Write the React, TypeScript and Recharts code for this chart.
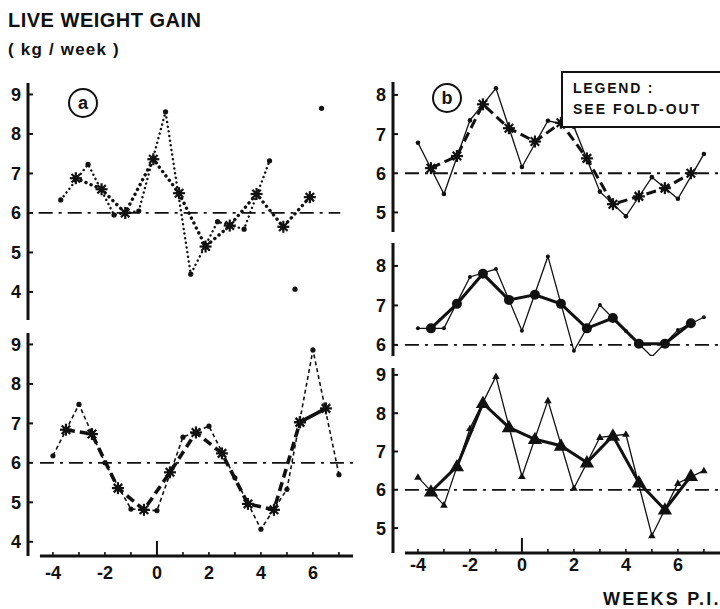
import React from "react";
import { ComposedChart, Line, XAxis, YAxis, ReferenceLine } from "recharts";

const FONT = '"Liberation Sans", Arial, Helvetica, sans-serif';
const INK = "#111";

// ---- (a) upper: weekly means (asterisks) and single weeks (dots)
const aTopMeanWeek = [-3.12, -2.13, -1.22, -0.14, 0.85, 1.87, 2.8, 3.83, 4.86, 5.88];
const aTopMeanGain = [6.88, 6.6, 6.0, 7.36, 6.5, 5.15, 5.68, 6.48, 5.65, 6.4];
const aTopWeek = [-3.7, -2.65, -1.65, -0.7, 0.33, 1.3, 2.33, 3.35, 4.33];
const aTopGain = [6.33, 7.23, 5.95, 6.05, 8.56, 4.45, 5.78, 5.59, 7.32];
const aTopStrayWeek = [5.31, 6.33];
const aTopStrayGain = [4.07, 8.65];

// ---- (a) lower
const halfWeeks = [-3.5, -2.5, -1.5, -0.5, 0.5, 1.5, 2.5, 3.5, 4.5, 5.5, 6.5];
const weeks = [-4, -3, -2, -1, 0, 1, 2, 3, 4, 5, 6, 7];
const aLowMeanGain = [6.84, 6.73, 5.36, 4.81, 5.76, 6.77, 6.24, 4.96, 4.81, 7.03, 7.38];
const aLowGain = [6.18, 7.48, 6.0, 4.83, 4.79, 6.65, 6.93, 5.62, 4.32, 5.33, 8.86, 5.7];

// ---- (b) three groups
const bTopMeanGain = [6.13, 6.44, 7.76, 7.15, 6.81, 7.29, 6.38, 5.21, 5.41, 5.62, 6.0];
const bTopGain = [6.78, 5.47, 7.35, 8.17, 6.16, 7.34, 7.19, 5.53, 4.9, 5.9, 5.35, 6.49];
const bMidMeanGain = [6.42, 7.04, 7.8, 7.14, 7.27, 7.04, 6.42, 6.68, 6.03, 6.03, 6.55];
const bMidGain = [6.42, 6.42, 7.72, 7.92, 6.36, 8.24, 5.85, 7.01, 6.35, 5.7, 6.38, 6.7];
const bLowMeanGain = [5.95, 6.61, 8.26, 7.63, 7.32, 7.15, 6.71, 7.41, 6.19, 5.48, 6.36];
const bLowGain = [6.33, 5.6, 7.6, 8.96, 6.35, 8.33, 6.04, 7.37, 7.45, 4.8, 6.17, 6.5];

const xTicks = [-4, -3, -2, -1, 0, 1, 2, 3, 4, 5, 6, 7];
const BASELINE = 6;
// room above each plot so the top tick label is not clipped
const PAD = 12;

const rows = (w: number[], g: number[]) => w.map((week, i) => ({ week, gain: g[i] }));

type Dot = (p: any) => React.ReactElement;

const star = (r: number): Dot => (p) => {
  const { cx, cy, index } = p;
  if (cx == null || cy == null) return <g key={`s${index}`} />;
  const d = r * 0.7071;
  const seg = (x1: number, y1: number, x2: number, y2: number, k: string) => (
    <line key={k} x1={x1} y1={y1} x2={x2} y2={y2} stroke={INK} strokeWidth={2.2} />
  );
  return (
    <g key={`s${index}`}>
      {seg(cx - r, cy, cx + r, cy, "h")}
      {seg(cx, cy - r, cx, cy + r, "v")}
      {seg(cx - d, cy - d, cx + d, cy + d, "d1")}
      {seg(cx - d, cy + d, cx + d, cy - d, "d2")}
      <circle cx={cx} cy={cy} r={r * 0.5} fill={INK} />
    </g>
  );
};

const disc = (r: number): Dot => (p) => {
  const { cx, cy, index } = p;
  if (cx == null || cy == null) return <g key={`d${index}`} />;
  return <circle key={`d${index}`} cx={cx} cy={cy} r={r} fill={INK} />;
};

const tri = (r: number): Dot => (p) => {
  const { cx, cy, index } = p;
  if (cx == null || cy == null) return <g key={`t${index}`} />;
  const pts = `${cx},${cy - r} ${cx + r * 0.95},${cy + r * 0.65} ${cx - r * 0.95},${cy + r * 0.65}`;
  return <polygon key={`t${index}`} points={pts} fill={INK} />;
};

type SeriesDef = {
  week: number[];
  gain: number[];
  width: number;
  dash?: string;
  cap?: "round" | "butt";
  dot: Dot | false;
};

type PanelProps = {
  left: number;
  top: number;
  width: number;
  plotHeight: number;
  axisWidth: number;
  xDomain: [number, number];
  yDomain: [number, number];
  yTicks: number[];
  baseline: [number, number];
  xAxis?: { from: number; labelGap: number };
  series: SeriesDef[];
};

const YTick = (p: any) => {
  const { x, y, payload } = p;
  return (
    <g>
      <line x1={x} x2={x + 5} y1={y} y2={y} stroke={INK} strokeWidth={2} />
      <text x={x - 7} y={y} dy="0.36em" textAnchor="end" fontFamily={FONT} fontWeight={700} fontSize={18} fill={INK}>
        {payload.value}
      </text>
    </g>
  );
};

const makeXTick = (labelGap: number) => (p: any) => {
  const { x, y, payload } = p;
  const v = payload.value as number;
  return (
    <g>
      <line x1={x} x2={x} y1={y} y2={y - (v === 0 ? 15 : 4)} stroke={INK} strokeWidth={v === 0 ? 2 : 1.6} />
      {v % 2 === 0 ? (
        <text x={x} y={y + labelGap} dy="0.36em" textAnchor="middle" fontFamily={FONT} fontWeight={700} fontSize={18} fill={INK}>
          {v < 0 ? `-${Math.abs(v)}` : v}
        </text>
      ) : null}
    </g>
  );
};

function Panel(props: PanelProps) {
  const { left, top, width, plotHeight, axisWidth, xDomain, yDomain, yTicks, baseline, xAxis, series } = props;
  const bottom = xAxis ? 32 : 0;
  return (
    <div style={{ position: "absolute", left, top: top - PAD }}>
      <ComposedChart width={width} height={plotHeight + bottom + PAD} margin={{ top: PAD, right: 0, bottom: 0, left: 0 }}>
        <XAxis
          type="number"
          dataKey="week"
          domain={xDomain}
          allowDataOverflow
          ticks={xTicks}
          interval={0}
          hide={!xAxis}
          height={bottom}
          axisLine={false}
          tickLine={false}
          tickSize={0}
          tickMargin={0}
          tick={xAxis ? makeXTick(xAxis.labelGap) : false}
        />
        <YAxis
          type="number"
          domain={yDomain}
          allowDataOverflow
          ticks={yTicks}
          interval={0}
          width={axisWidth}
          axisLine={{ stroke: INK, strokeWidth: 3 }}
          tickLine={false}
          tickSize={0}
          tickMargin={0}
          tick={<YTick />}
        />
        <ReferenceLine
          segment={[
            { x: baseline[0], y: BASELINE },
            { x: baseline[1], y: BASELINE },
          ]}
          stroke={INK}
          strokeWidth={1.8}
          strokeDasharray="14 6 3 6"
          ifOverflow="visible"
        />
        {xAxis ? (
          <ReferenceLine
            segment={[
              { x: xAxis.from, y: yDomain[0] },
              { x: xDomain[1], y: yDomain[0] },
            ]}
            stroke={INK}
            strokeWidth={3}
            ifOverflow="visible"
          />
        ) : null}
        {series.map((s, i) => (
          <Line
            key={i}
            data={rows(s.week, s.gain)}
            dataKey="gain"
            type="linear"
            stroke={s.dash === "none" ? "none" : INK}
            strokeWidth={s.width}
            strokeDasharray={s.dash && s.dash !== "none" ? s.dash : undefined}
            strokeLinecap={s.cap ?? "butt"}
            dot={s.dot}
            activeDot={false}
            isAnimationActive={false}
          />
        ))}
      </ComposedChart>
    </div>
  );
}

const leftX: [number, number] = [-4.96, 7.54];
const rightX: [number, number] = [-4.96, 7.62];

export default function App() {
  return (
    <div style={{ position: "absolute", left: 0, top: 0, width: 720, height: 609, background: "#fff", overflow: "hidden" }}>
      {/* (a) upper */}
      <Panel
        left={0}
        top={83}
        width={353}
        plotHeight={237}
        axisWidth={28}
        xDomain={leftX}
        yDomain={[3.29, 9.29]}
        yTicks={[4, 5, 6, 7, 8, 9]}
        baseline={[-4.55, 7.05]}
        series={[
          { week: aTopWeek, gain: aTopGain, width: 2.4, dash: "0.1 4.6", cap: "round", dot: disc(2.6) },
          { week: aTopMeanWeek, gain: aTopMeanGain, width: 3.4, dash: "0.1 5.4", cap: "round", dot: star(6) },
          { week: aTopStrayWeek, gain: aTopStrayGain, width: 0, dash: "none", dot: disc(2.6) },
        ]}
      />
      {/* (a) lower */}
      <Panel
        left={0}
        top={333}
        width={353}
        plotHeight={223}
        axisWidth={28}
        xDomain={leftX}
        yDomain={[3.64, 9.29]}
        yTicks={[4, 5, 6, 7, 8, 9]}
        baseline={[-4.5, 7.54]}
        xAxis={{ from: -4.5, labelGap: 17 }}
        series={[
          { week: weeks, gain: aLowGain, width: 1.6, dash: "4 3", dot: disc(2.6) },
          { week: halfWeeks.slice(0, 10), gain: aLowMeanGain.slice(0, 10), width: 3.6, dash: "9 5", dot: star(6) },
          { week: halfWeeks.slice(9), gain: aLowMeanGain.slice(9), width: 3.6, dot: star(6) },
        ]}
      />
      {/* (b) upper */}
      <Panel
        left={360}
        top={82}
        width={360}
        plotHeight={150}
        axisWidth={33}
        xDomain={rightX}
        yDomain={[4.5, 8.33]}
        yTicks={[5, 6, 7, 8]}
        baseline={[-4.5, 7.62]}
        series={[
          { week: weeks, gain: bTopGain, width: 1.3, dot: disc(2.3) },
          { week: halfWeeks, gain: bTopMeanGain, width: 3, dash: "10 5", dot: star(6) },
        ]}
      />
      {/* (b) middle */}
      <Panel
        left={360}
        top={243}
        width={360}
        plotHeight={113}
        axisWidth={33}
        xDomain={rightX}
        yDomain={[5.72, 8.58]}
        yTicks={[6, 7, 8]}
        baseline={[-4.5, 7.62]}
        series={[
          { week: weeks, gain: bMidGain, width: 1.3, dot: disc(2) },
          { week: halfWeeks, gain: bMidMeanGain, width: 3, dot: disc(5) },
        ]}
      />
      {/* (b) lower */}
      <Panel
        left={360}
        top={368}
        width={360}
        plotHeight={185}
        axisWidth={33}
        xDomain={rightX}
        yDomain={[4.35, 9.18]}
        yTicks={[5, 6, 7, 8, 9]}
        baseline={[-4.5, 7.62]}
        xAxis={{ from: -4.5, labelGap: 12 }}
        series={[
          { week: weeks, gain: bLowGain, width: 1.3, dot: tri(4) },
          { week: halfWeeks, gain: bLowMeanGain, width: 3, dot: tri(7.5) },
        ]}
      />

      <svg width={720} height={609} style={{ position: "absolute", left: 0, top: 0, pointerEvents: "none" }}>
        <text x={8} y={27} fontFamily={FONT} fontWeight={700} fontSize={20} letterSpacing={0.5} fill={INK}>
          LIVE WEIGHT GAIN
        </text>
        <text x={8} y={55} fontFamily={FONT} fontWeight={700} fontSize={17} letterSpacing={1.2} fill={INK}>
          ( kg / week )
        </text>

        <circle cx={83} cy={103} r={14} fill="none" stroke={INK} strokeWidth={2} />
        <text x={83} y={103} dy="0.36em" textAnchor="middle" fontFamily={FONT} fontWeight={700} fontSize={18} fill={INK}>
          a
        </text>
        <circle cx={447} cy={98} r={14} fill="none" stroke={INK} strokeWidth={2} />
        <text x={447} y={98} dy="0.36em" textAnchor="middle" fontFamily={FONT} fontWeight={700} fontSize={18} fill={INK}>
          b
        </text>

        <rect x={562} y={72} width={170} height={55} fill="#fff" stroke={INK} strokeWidth={2} />
        <text x={573} y={93} fontFamily={FONT} fontWeight={700} fontSize={14} letterSpacing={1.8} fill={INK}>
          LEGEND :
        </text>
        <text x={573} y={114} fontFamily={FONT} fontWeight={700} fontSize={14} letterSpacing={2} fill={INK}>
          SEE FOLD-OUT
        </text>

        <text x={603} y={605} fontFamily={FONT} fontWeight={700} fontSize={18} letterSpacing={2.2} fill={INK}>
          WEEKS P.I.
        </text>
      </svg>
    </div>
  );
}
